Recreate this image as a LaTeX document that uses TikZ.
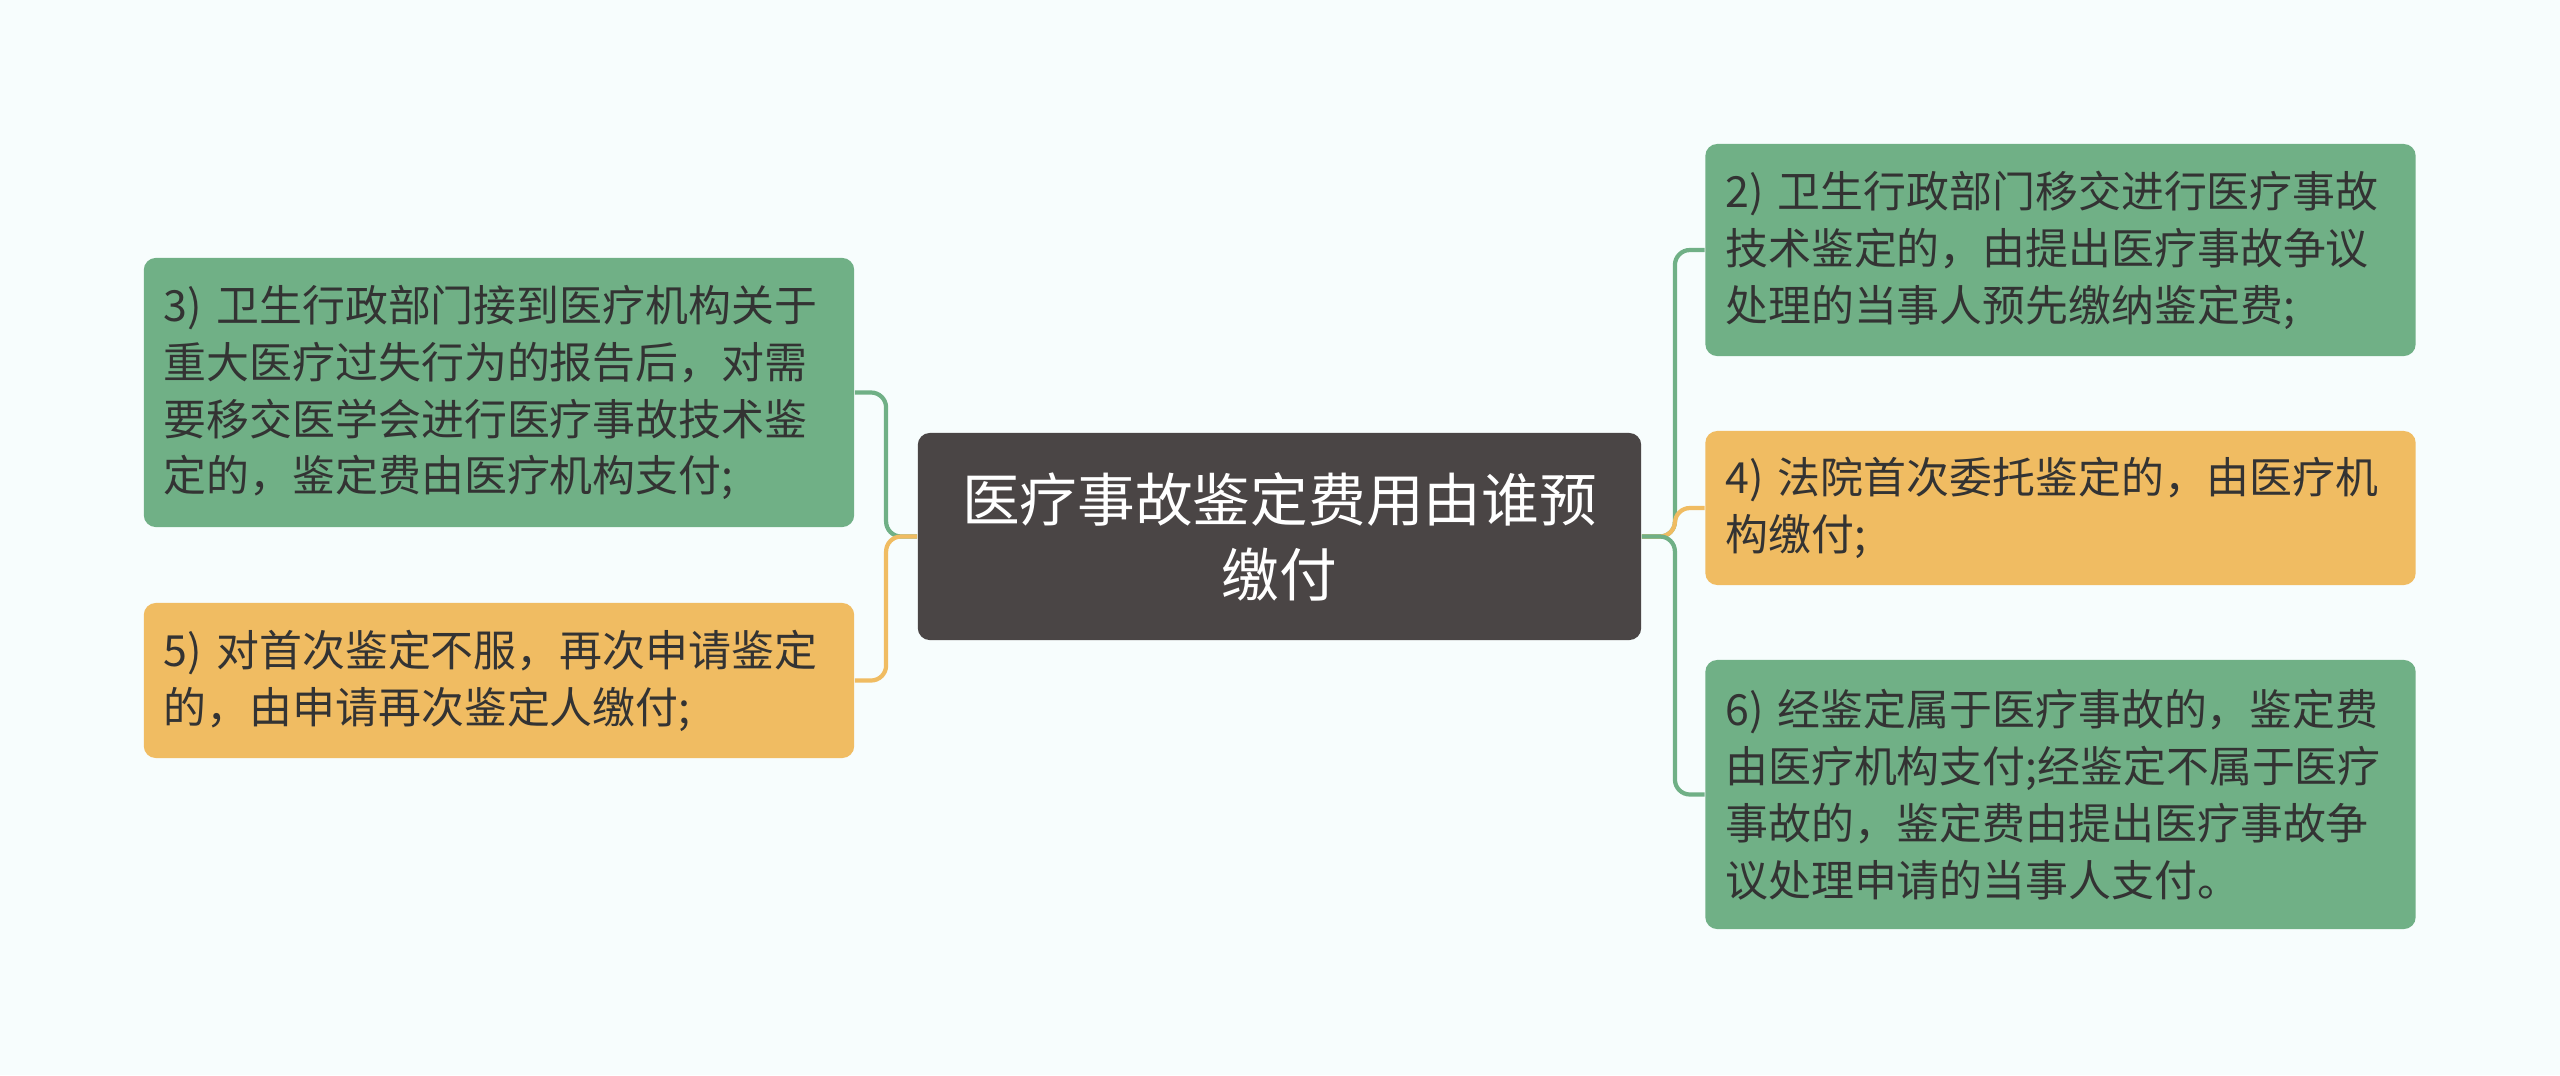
\documentclass[tikz,border=0pt]{standalone}
\usepackage{fontspec}
\setmainfont{Noto Sans CJK SC}
\usepackage{tikz}
\definecolor{bgcol}{HTML}{F7FDFD}
\definecolor{rootcol}{HTML}{4A4545}
\definecolor{greencol}{HTML}{70B086}
\definecolor{orangecol}{HTML}{F0BC62}
\definecolor{textcol}{HTML}{333333}

\begin{document}
\begin{tikzpicture}[x=0.01cm, y=-0.01cm,
  root/.style={fill=rootcol, text=white, rounded corners=0.12cm, align=center,
    minimum width=7.23cm, minimum height=2.07cm, inner sep=0pt,
    font=\fontsize{16.4pt}{21.3pt}\selectfont},
  leaf/.style={rounded corners=0.12cm, text=textcol, align=left,
    text width=6.70cm, inner xsep=0.20cm, inner ysep=0pt, minimum width=7.10cm,
    font=\fontsize{12.2pt}{16.2pt}\selectfont},
  gleaf/.style={leaf, fill=greencol},
  oleaf/.style={leaf, fill=orangecol},
  link/.style={line width=1.2pt, rounded corners=0.15cm}]
  \fill[bgcol] (0,0) rectangle (2560,1075);
  \useasboundingbox (0,0) rectangle (2560,1075);
  \node[root] (root) at (1279.5,536.5) {医疗事故鉴定费用由谁预\\缴付};
  \node[gleaf, minimum height=2.69cm] (n3) at (499,392.5)
    {3) 卫生行政部门接到医疗机构关于\\重大医疗过失行为的报告后，对需\\要移交医学会进行医疗事故技术鉴\\定的，鉴定费由医疗机构支付;};
  \node[oleaf, minimum height=1.55cm] (n5) at (499,680.5)
    {5) 对首次鉴定不服，再次申请鉴定\\的，由申请再次鉴定人缴付;};
  \node[gleaf, minimum height=2.12cm] (n2) at (2060.5,250)
    {2) 卫生行政部门移交进行医疗事故\\技术鉴定的，由提出医疗事故争议\\处理的当事人预先缴纳鉴定费;};
  \node[oleaf, minimum height=1.54cm] (n4) at (2060.5,508)
    {4) 法院首次委托鉴定的，由医疗机\\构缴付;};
  \node[gleaf, minimum height=2.69cm] (n6) at (2060.5,794.5)
    {6) 经鉴定属于医疗事故的，鉴定费\\由医疗机构支付;经鉴定不属于医疗\\事故的，鉴定费由提出医疗事故争\\议处理申请的当事人支付。};
  \draw[link, greencol] (root.west) -- ++(-31,0) |- (n3.east);
  \draw[link, orangecol] (root.west) -- ++(-31,0) |- (n5.east);
  \draw[link, greencol] (root.east) -- ++(33,0) |- (n2.west);
  \draw[link, orangecol] (root.east) -- ++(33,0) |- (n4.west);
  \draw[link, greencol] (root.east) -- ++(33,0) |- (n6.west);
\end{tikzpicture}
\end{document}
